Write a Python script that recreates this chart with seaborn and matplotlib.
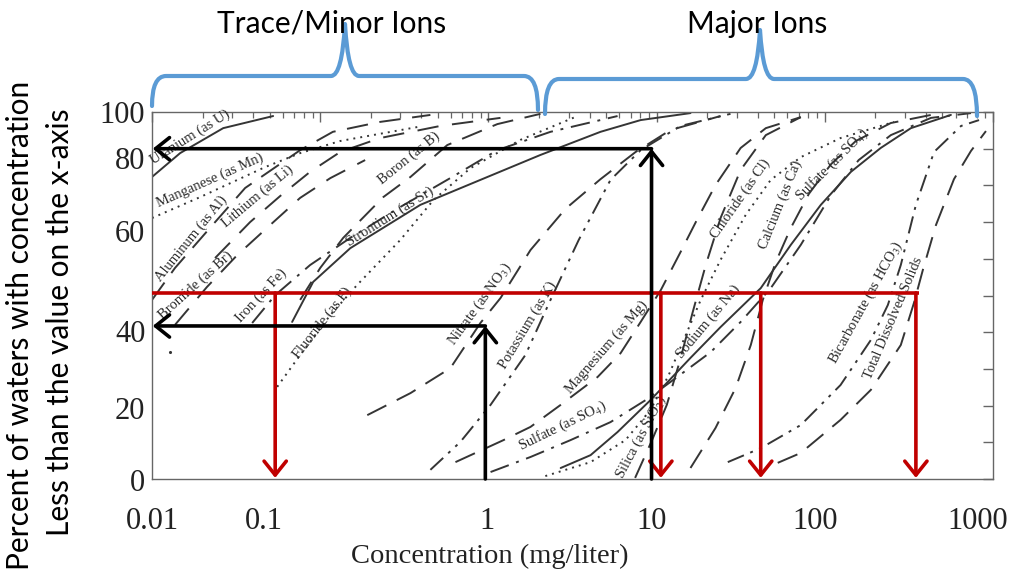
import numpy as np
import pandas as pd
import matplotlib
matplotlib.use("Agg")
import matplotlib.pyplot as plt
import seaborn as sns
from matplotlib.path import Path
from matplotlib.patches import PathPatch
from matplotlib.ticker import LogLocator, NullFormatter, MultipleLocator

# ---------------- data (concentration mg/L, cumulative percent) ----------------
uranium_x = [0.0100, 0.0147, 0.0265, 0.0525]
uranium_y = [82.3, 88.8, 95.6, 98.9]
manganese_x = [0.0100, 0.0193, 0.0471, 0.0760, 0.1315, 0.378]
manganese_y = [71.1, 76.8, 85.0, 88.8, 92.1, 95.9]
aluminum_x = [0.0100, 0.0137, 0.0221, 0.0358, 0.0760, 0.119, 0.227, 0.452]
aluminum_y = [48.8, 57.5, 68.4, 79.3, 89.6, 94.6, 97.3, 99.2]
lithium_x = [0.0237, 0.0383, 0.0578, 0.0871, 0.1315, 0.227, 0.518, 1.18]
lithium_y = [60.2, 70.0, 77.1, 83.7, 89.1, 92.9, 96.2, 98.4]
bromide_x = [0.0137, 0.0212, 0.0321, 0.0504, 0.0760, 0.115, 0.185]
bromide_y = [42.0, 52.3, 61.0, 69.2, 76.6, 82.0, 86.9]
iron_x = [0.0394, 0.0540, 0.0871, 0.151, 0.299, 0.594, 1.13, 2.34, 5.86]
iron_y = [42.5, 50.1, 58.3, 65.7, 74.1, 82.0, 89.6, 94.6, 98.9]
strontium_x = [0.0681, 0.0908, 0.151, 0.394, 0.896, 2.04, 4.64, 8.04, 15.9]
strontium_y = [42.8, 53.7, 62.9, 74.7, 81.5, 88.3, 94.6, 97.8, 99.7]
boron_x = [0.0760, 0.100, 0.137, 0.237, 0.344, 0.570, 1.13, 2.04]
boron_y = [48.8, 57.5, 65.7, 76.8, 82.3, 91.0, 96.7, 99.5]
fluoride_x = [0.0555, 0.0760, 0.115, 0.166, 0.299, 0.471, 0.782, 1.55, 3.39]
fluoride_y = [25.1, 33.8, 44.7, 52.9, 65.1, 76.0, 84.7, 92.4, 98.9]
nitrate_x = [0.1905, 0.344, 0.594, 0.896, 1.18, 1.78, 2.87, 4.64, 7.50, 12.1, 24.0]
nitrate_y = [17.4, 23.4, 30.2, 42.5, 49.3, 62.4, 73.6, 81.7, 89.1, 95.1, 98.9]
potassium_x = [0.452, 0.681, 1.03, 1.66, 2.34, 3.44, 5.32, 8.04, 13.9, 27.5]
potassium_y = [2.5, 10.1, 20.2, 33.8, 48.8, 65.1, 81.5, 89.6, 96.2, 99.5]
magnesium_x = [0.637, 1.23, 1.78, 2.69, 4.46, 6.11, 8.04, 10.6, 13.9, 17.1, 22.4, 31.6, 44.6, 72.0]
magnesium_y = [4.6, 10.6, 14.2, 20.2, 27.8, 34.3, 42.8, 51.5, 61.9, 70.0, 80.1, 90.2, 95.6, 98.6]
sulfate_x = [1.03, 1.78, 3.08, 5.32, 8.61, 13.0, 21.0, 31.6, 47.7, 72.0, 109, 159, 247, 428, 740]
sulfate_y = [1.9, 6.0, 10.6, 15.5, 21.5, 27.5, 34.6, 42.8, 52.0, 63.8, 77.4, 86.9, 93.7, 98.4, 99.7]
silica_x = [7.45, 9.40, 11.5, 13.8, 16.4, 19.6, 24.0, 31.6, 44.6, 72.0]
silica_y = [0.3, 10.6, 20.2, 32.4, 45.5, 58.3, 71.1, 84.2, 93.7, 98.6]
chloride_x = [2.18, 4.05, 6.53, 9.20, 11.8, 14.9, 18.3, 24.0, 33.9, 47.7, 72.0, 124, 258]
chloride_y = [0.8, 4.6, 10.6, 18.8, 28.3, 39.2, 48.8, 59.7, 72.0, 81.5, 87.7, 92.9, 97.3]
calcium_x = [15.9, 22.4, 29.5, 36.3, 42.8, 51.1, 62.8, 80.4, 109, 153, 247, 428]
calcium_y = [3.0, 13.9, 24.8, 36.5, 48.8, 59.1, 68.4, 77.7, 85.8, 92.1, 97.0, 99.2]
sodium_x = [2.69, 4.05, 5.86, 9.20, 15.9, 24.0, 41.6, 62.8, 94.7, 143, 215, 325, 562]
sodium_y = [3.0, 6.5, 12.8, 21.5, 33.0, 41.4, 52.0, 63.8, 74.7, 83.7, 90.2, 95.6, 99.2]
bicarbonate_x = [26.5, 41.6, 72.0, 124, 188, 237, 283, 348, 446, 646, 826]
bicarbonate_y = [4.6, 8.4, 14.7, 25.6, 37.9, 47.4, 58.3, 74.7, 89.1, 96.2, 97.8]
tds_x = [52.5, 72.0, 124, 188, 283, 339, 383, 458, 586, 740, 908]
tds_y = [4.4, 7.1, 16.1, 24.3, 36.5, 48.0, 57.0, 69.2, 81.7, 89.4, 94.8]

stray_x = [0.0128]
stray_y = [34.6]

# curve labels
label_texts = ["Uranium (as U)", "Manganese (as Mn)", "Aluminum (as Al)", "Lithium (as Li)",
               "Bromide (as Br)", "Iron (as Fe)", "Fluoride (as F)", "Boron (as B)",
               "Strontium (as Sr)", r"Nitrate (as NO$_3$)", "Potassium (as K)",
               "Magnesium (as Mg)", r"Sulfate (as SO$_4$)", r"Silica (as SiO$_2$)",
               "Sodium (as Na)", "Chloride (as Cl)", "Calcium (as Ca)",
               r"Sulfate (as SO$_4$)", r"Bicarbonate (as HCO$_3$)", "Total Dissolved Solids"]
label_x = [0.0168, 0.0221, 0.0171, 0.0427, 0.0183, 0.0445, 0.1026, 0.337, 0.260, 0.891, 1.72,
           5.07, 2.78, 8.07, 20.2, 31.3, 54.2, 110, 176, 255]
label_y = [93.2, 81.5, 65.4, 77.1, 52.9, 49.9, 42.5, 87.5, 71.4, 47.7, 42.0,
           36.0, 14.4, 11.4, 42.8, 76.3, 74.7, 85.6, 48.0, 43.9]
label_rot = [32, 24, 51, 40, 42, 47, 52, 39, 32, 54, 59, 49, 26, 62, 50, 55, 68, 45, 61, 67]

# axis tick labels (as placed in the reference)
xtick_text = ["0.01", "0.1", "1", "10", "100", "1000"]
xtick_pos = [0.0100, 0.0464, 0.981, 9.27, 87.5, 815]
ytick_text = ["100", "80", "60", "40", "20", "0"]
ytick_pos = [100, 87.5, 67.6, 40.3, 19.3, -0.3]

# annotation values
black_arrow_x = [9.33, 0.959]
black_arrow_y = [90.0, 41.7]
red_level = 50.7
red_end = 363
red_drops = [0.054, 10.6, 41.6, 348]

# ---------------- build table ----------------
curves = [
    ("Uranium", uranium_x, uranium_y, ""),
    ("Manganese", manganese_x, manganese_y, (1, 2.6)),
    ("Aluminum", aluminum_x, aluminum_y, (11, 6)),
    ("Lithium", lithium_x, lithium_y, (11, 7)),
    ("Bromide", bromide_x, bromide_y, (11, 7)),
    ("Iron", iron_x, iron_y, (10, 4, 1.5, 4)),
    ("Strontium", strontium_x, strontium_y, ""),
    ("Boron", boron_x, boron_y, (11, 6)),
    ("Fluoride", fluoride_x, fluoride_y, (1, 2.6)),
    ("Nitrate", nitrate_x, nitrate_y, (11, 6)),
    ("Potassium", potassium_x, potassium_y, (9, 3.5, 1.5, 3.5, 1.5, 3.5)),
    ("Magnesium", magnesium_x, magnesium_y, (11, 6)),
    ("Sulfate", sulfate_x, sulfate_y, (10, 4, 1.5, 4)),
    ("Silica", silica_x, silica_y, (11, 6)),
    ("Chloride", chloride_x, chloride_y, (1, 2.6)),
    ("Calcium", calcium_x, calcium_y, (11, 6)),
    ("Sodium", sodium_x, sodium_y, ""),
    ("Bicarbonate", bicarbonate_x, bicarbonate_y, (9, 3.5, 1.5, 3.5, 1.5, 3.5)),
    ("TDS", tds_x, tds_y, (11, 6)),
]
rows = []
for name, xs, ys, _ in curves:
    for xv, yv in zip(xs, ys):
        rows.append((name, xv, yv))
df = pd.DataFrame(rows, columns=["ion", "conc", "pct"])
dash_map = {name: d for name, _, _, d in curves}
line_col = "#353535"
pal_map = {name: line_col for name, *_ in curves}

# ---------------- figure ----------------
sns.set_theme(style="white")
plt.rcParams["font.family"] = ["Liberation Serif", "DejaVu Serif"]
plt.rcParams["mathtext.fontset"] = "stix"

W, H = 1026, 576
fig = plt.figure(figsize=(W / 100, H / 100), dpi=100)
fig.patch.set_facecolor("white")
ax = fig.add_axes([152 / W, 1 - 479 / H, (993 - 152) / W, (479 - 112) / H])
ax.set_xscale("log")

sns.lineplot(data=df, x="conc", y="pct", hue="ion", style="ion", palette=pal_map,
             dashes=dash_map, estimator=None, sort=True, legend=False,
             linewidth=1.4, ax=ax, zorder=2)
sns.scatterplot(x=stray_x, y=stray_y, color=line_col, s=5, linewidth=0, ax=ax, zorder=2)

ax.set_xlim(0.01, 1000)
ax.set_ylim(0, 100)
ax.set_xlabel("")
ax.set_ylabel("")
for sp in ax.spines.values():
    sp.set_color("#666666")
    sp.set_linewidth(1.0)
ax.xaxis.set_major_locator(LogLocator(base=10, numticks=10))
ax.xaxis.set_minor_locator(LogLocator(base=10, subs=np.arange(2, 10), numticks=20))
ax.xaxis.set_minor_formatter(NullFormatter())
ax.yaxis.set_major_locator(MultipleLocator(10))
ax.tick_params(which="both", direction="in", top=True, right=True, colors="#666666",
               labelbottom=False, labelleft=False)
ax.tick_params(which="major", length=7, width=1)
ax.tick_params(which="minor", length=4, width=0.9)

tick_fs = 22
for t, p in zip(xtick_text, xtick_pos):
    ax.text(p, -0.106, t, transform=ax.get_xaxis_transform(), ha="center",
            va="center_baseline", fontsize=tick_fs, color="#222222")
for t, p in zip(ytick_text, ytick_pos):
    ax.text(-0.008, p, t, transform=ax.get_yaxis_transform(), ha="right",
            va="center_baseline", fontsize=tick_fs, color="#222222")

fig.text(490 / W, 1 - 556 / H, "Concentration (mg/liter)", ha="center", va="center",
         fontsize=20.5, color="#222222")

# curve labels
for t, xv, yv, r in zip(label_texts, label_x, label_y, label_rot):
    ax.text(xv, yv, t, rotation=r, rotation_mode="anchor", ha="center", va="center",
            fontsize=10.5, color="#2a2a2a", zorder=3)

# red annotations
red = "#C00000"
ax.plot([0.01, red_end], [red_level, red_level], color=red, lw=2.6, zorder=5,
        clip_on=False, solid_capstyle="butt")
for xv in red_drops:
    ax.annotate("", xy=(xv, 0.3), xytext=(xv, red_level), annotation_clip=False,
                arrowprops=dict(arrowstyle="->,head_length=0.5,head_width=0.4", color=red,
                                lw=2.6, shrinkA=0, shrinkB=0, mutation_scale=20), zorder=5)

# black annotations
for xv, yv in zip(black_arrow_x, black_arrow_y):
    ax.annotate("", xy=(xv, yv), xytext=(xv, 0), annotation_clip=False,
                arrowprops=dict(arrowstyle="->,head_length=0.5,head_width=0.4", color="black",
                                lw=2.6, shrinkA=0, shrinkB=0, mutation_scale=20), zorder=6)
    ax.annotate("", xy=(0.0101, yv), xytext=(xv, yv), annotation_clip=False,
                arrowprops=dict(arrowstyle="->,head_length=0.5,head_width=0.4", color="black",
                                lw=2.6, shrinkA=0, shrinkB=0, mutation_scale=20), zorder=6)

# ---------------- overlay: braces and headings ----------------
ov = fig.add_axes([0, 0, 1, 1], zorder=10)
ov.set_xlim(0, W)
ov.set_ylim(H, 0)
ov.axis("off")
ov.patch.set_alpha(0)


def brace(x0, x1, xm, y0, y1, ybar, ytip):
    verts = [(x0, y0), (x0, ybar), (x0 + 14, ybar),
             (xm - 14, ybar),
             (xm - 3, ybar), (xm, ytip),
             (xm + 3, ybar), (xm + 14, ybar),
             (x1 - 14, ybar),
             (x1, ybar), (x1, y1)]
    codes = [Path.MOVETO, Path.CURVE3, Path.CURVE3, Path.LINETO,
             Path.CURVE3, Path.CURVE3, Path.CURVE3, Path.CURVE3,
             Path.LINETO, Path.CURVE3, Path.CURVE3]
    ov.add_patch(PathPatch(Path(verts, codes), fill=False, edgecolor="#5B9BD5",
                           lw=3, capstyle="round", joinstyle="round"))


brace(152, 538, 345, 106, 110, 76, 24)
brace(545, 977, 760, 114, 116, 79, 30)

sans = ["Lato", "DejaVu Sans"]
ov.text(332, 24, "Trace/Minor Ions", ha="center", va="center", fontsize=21.5,
        family=sans, color="black")
ov.text(757, 24, "Major Ions", ha="center", va="center", fontsize=21.5,
        family=sans, color="black")
ov.text(20, 325, "Percent of waters with concentration", rotation=90, ha="center",
        va="center", fontsize=21.5, family=sans, color="black")
ov.text(60, 322, "Less than the value on the x-axis", rotation=90, ha="center",
        va="center", fontsize=21.5, family=sans, color="black")

fig.savefig("out.png", dpi=100, facecolor="white")
